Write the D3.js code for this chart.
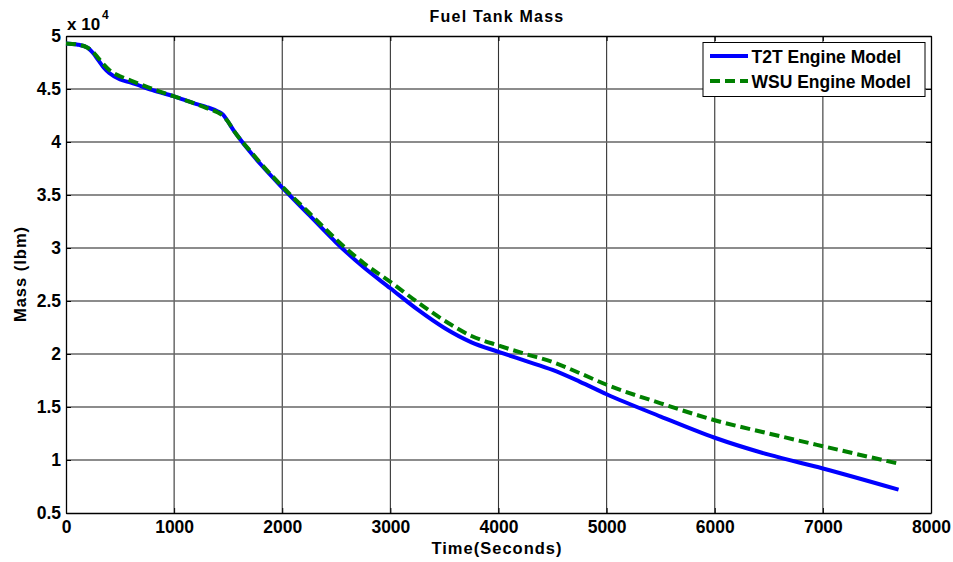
<!DOCTYPE html>
<html>
<head>
<meta charset="utf-8">
<script src="https://cdn.jsdelivr.net/npm/d3@7"></script>
<style>
  html, body { margin: 0; padding: 0; background: #fff; }
  text { font-family: "Liberation Sans", Arial, sans-serif; font-weight: bold; fill: #000; }
</style>
</head>
<body>
<svg id="chart" width="953" height="562"></svg>
<script>
// ---- data ----
const title = "Fuel Tank Mass";
const xLabel = "Time(Seconds)";
const yLabel = "Mass (lbm)";
const seriesNames = ["T2T Engine Model", "WSU Engine Model"];
const times = [0,100,200,250,300,350,400,500,600,800,1000,1200,1300,1400,1450,1500,1550,1600,1700,1800,2000,2250,2500,2750,3000,3250,3500,3750,4000,4250,4500,4750,5000,5500,6000,6500,7000,7700];
const t2tMass = [4.93,4.92,4.89,4.84,4.77,4.70,4.65,4.59,4.56,4.49,4.43,4.36,4.33,4.29,4.26,4.19,4.11,4.04,3.91,3.79,3.57,3.31,3.05,2.82,2.62,2.42,2.245,2.11,2.02,1.935,1.85,1.74,1.62,1.41,1.21,1.05,0.92,0.72];
const wsuMass = [4.93,4.92,4.89,4.85,4.79,4.73,4.68,4.62,4.58,4.50,4.43,4.36,4.32,4.28,4.25,4.19,4.11,4.04,3.92,3.80,3.58,3.33,3.08,2.86,2.68,2.49,2.315,2.17,2.08,2.0,1.925,1.82,1.71,1.535,1.375,1.25,1.13,0.965];
const xTicks = [0,1000,2000,3000,4000,5000,6000,7000,8000];
const yTicks = [0.5,1,1.5,2,2.5,3,3.5,4,4.5,5];
const yTickLabels = ["0.5","1","1.5","2","2.5","3","3.5","4","4.5","5"];

// ---- chart ----
const svg = d3.select("#chart");
const L = 66, R = 931, T = 36, B = 513;
const x = d3.scaleLinear().domain([0, 8000]).range([L, R]);
const y = d3.scaleLinear().domain([0.5, 5]).range([B, T]);

// grid
svg.append("g").selectAll("line").data(xTicks.slice(1, -1)).join("line")
  .attr("x1", d => x(d)).attr("x2", d => x(d)).attr("y1", T).attr("y2", B)
  .attr("stroke", "#333").attr("stroke-width", 1.1);
svg.append("g").selectAll("line").data(yTicks.slice(1, -1)).join("line")
  .attr("y1", d => y(d)).attr("y2", d => y(d)).attr("x1", L).attr("x2", R)
  .attr("stroke", "#666").attr("stroke-width", 1.3);

// axes (ticks inward)
const fmtY = (d) => yTickLabels[yTicks.indexOf(d)];
const axB = svg.append("g").attr("transform", `translate(0,${B})`)
  .call(d3.axisBottom(x).tickValues(xTicks).tickSizeInner(-5).tickSizeOuter(0).tickPadding(8).tickFormat(d3.format("d")));
const axT = svg.append("g").attr("transform", `translate(0,${T})`)
  .call(d3.axisTop(x).tickValues(xTicks).tickSizeInner(-5).tickSizeOuter(0).tickFormat(""));
const axL = svg.append("g").attr("transform", `translate(${L},0)`)
  .call(d3.axisLeft(y).tickValues(yTicks).tickSizeInner(-5).tickSizeOuter(0).tickPadding(5).tickFormat(fmtY));
const axR = svg.append("g").attr("transform", `translate(${R},0)`)
  .call(d3.axisRight(y).tickValues(yTicks).tickSizeInner(-5).tickSizeOuter(0).tickFormat(""));
[axB, axT, axL, axR].forEach(g => {
  g.select(".domain").attr("stroke", "#000").attr("stroke-width", 1.3);
  g.selectAll(".tick line").attr("stroke", "#000");
  g.selectAll("text").style("font-family", "'Liberation Sans', Arial, sans-serif")
    .style("font-weight", "bold").style("font-size", "17.5px").attr("fill", "#000");
});
axB.selectAll("text").attr("dy", "0.71em");

// x 10^4 exponent label
const expo = svg.append("text").attr("x", 67).attr("y", 30).style("font-size", "17px");
expo.append("tspan").text("x 10");
expo.append("tspan").attr("dy", -11).attr("dx", 2).style("font-size", "12px").text("4");

// lines
const line = d3.line().x(d => x(d[0])).y(d => y(d[1])).curve(d3.curveMonotoneX);
const t2tData = times.map((t, i) => [t, t2tMass[i]]);
const wsuData = times.map((t, i) => [t, wsuMass[i]]);
svg.append("path").datum(t2tData).attr("d", line)
  .attr("fill", "none").attr("stroke", "#0000ff").attr("stroke-width", 4);
svg.append("path").datum(wsuData).attr("d", line)
  .attr("fill", "none").attr("stroke", "#008000").attr("stroke-width", 4)
  .attr("stroke-dasharray", "10,5");

// title and labels
svg.append("text").attr("x", 497).attr("y", 22).attr("text-anchor", "middle")
  .style("font-size", "16px").style("letter-spacing", "1.2px").text(title);
svg.append("text").attr("x", 497).attr("y", 554).attr("text-anchor", "middle")
  .style("font-size", "16.5px").style("letter-spacing", "1px").text(xLabel);
svg.append("text").attr("transform", "translate(26,274) rotate(-90)").attr("text-anchor", "middle")
  .style("font-size", "16.5px").style("letter-spacing", "1px").text(yLabel);

// legend
const lg = svg.append("g");
lg.append("rect").attr("x", 703).attr("y", 42.5).attr("width", 222).attr("height", 54)
  .attr("fill", "#fff").attr("stroke", "#000").attr("stroke-width", 1);
const colors = ["#0000ff", "#008000"];
const dashes = [null, "10,5"];
seriesNames.forEach((name, i) => {
  const yy = 56 + i * 25;
  lg.append("line").attr("x1", 710).attr("x2", 748).attr("y1", yy).attr("y2", yy)
    .attr("stroke", colors[i]).attr("stroke-width", 4).attr("stroke-dasharray", dashes[i]);
  lg.append("text").attr("x", 751.5).attr("y", yy + 6.5).style("font-size", "17.5px").text(name);
});
</script>
</body>
</html>
